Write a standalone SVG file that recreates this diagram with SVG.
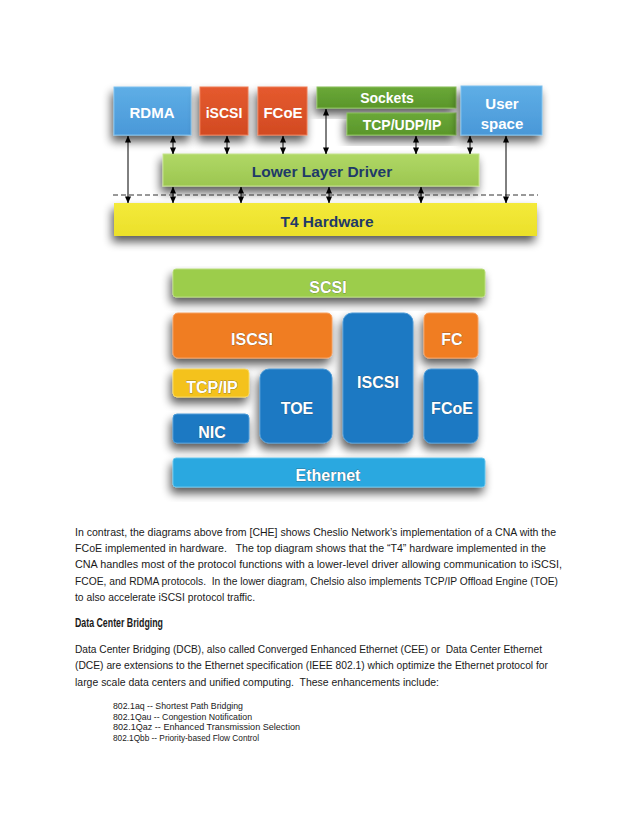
<svg xmlns="http://www.w3.org/2000/svg" width="638" height="826" viewBox="0 0 638 826">
<defs>
  <filter id="sh" x="-30%" y="-30%" width="160%" height="180%">
    <feGaussianBlur in="SourceAlpha" stdDeviation="5"/>
    <feOffset dx="-2" dy="6" result="b"/>
    <feComponentTransfer><feFuncA type="linear" slope="0.65"/></feComponentTransfer>
    <feMerge><feMergeNode/><feMergeNode in="SourceGraphic"/></feMerge>
  </filter>
  <marker id="ah" viewBox="0 0 8 8" refX="7.5" refY="4" markerWidth="7" markerHeight="7" markerUnits="userSpaceOnUse" orient="auto-start-reverse">
    <path d="M0,0.5 L8,4 L0,7.5 z" fill="#000"/>
  </marker>
  <linearGradient id="gBlue" x1="0" y1="0" x2="0" y2="1"><stop offset="0" stop-color="#5eaee6"/><stop offset="1" stop-color="#4a98d8"/></linearGradient>
  <linearGradient id="gRed" x1="0" y1="0" x2="0" y2="1"><stop offset="0" stop-color="#e55a2e"/><stop offset="1" stop-color="#d24a22"/></linearGradient>
  <linearGradient id="gGreen" x1="0" y1="0" x2="0" y2="1"><stop offset="0" stop-color="#6aa838"/><stop offset="1" stop-color="#5a962a"/></linearGradient>
  <linearGradient id="gLime" x1="0" y1="0" x2="0" y2="1"><stop offset="0" stop-color="#b0d866"/><stop offset="1" stop-color="#9cc650"/></linearGradient>
  <linearGradient id="gYel" x1="0" y1="0" x2="0" y2="1"><stop offset="0" stop-color="#f4ea3a"/><stop offset="1" stop-color="#ebe02a"/></linearGradient>
</defs>
<style>
  .bx { filter: url(#sh); }
  .wt { font-family: "Liberation Sans", Arial, sans-serif; font-weight: bold; fill: #fff; text-anchor: middle; }
  .nv { font-family: "Liberation Sans", Arial, sans-serif; font-weight: bold; fill: #1f3a68; text-anchor: middle; }
  .bt { font-family: "Liberation Sans", Arial, sans-serif; font-weight: bold; fill: #fff; text-anchor: middle; font-size: 16px; stroke: #3a3a3a; stroke-width: 0.4; paint-order: stroke; }
  .ar { stroke: #000; stroke-width: 1; fill: none; marker-start: url(#ah); marker-end: url(#ah); }
  .p { font-family: "Liberation Sans", Arial, sans-serif; font-size: 11.5px; fill: #1a1a1a; white-space: pre; }
  .h { font-family: "Liberation Sans", Arial, sans-serif; font-size: 12px; font-weight: bold; fill: #1a1a1a; }
  .l { font-family: "Liberation Sans", Arial, sans-serif; font-size: 9px; fill: #1a1a1a; }
</style>
<rect width="638" height="826" fill="#fff"/>

<!-- Top diagram -->
<g id="t4">
  <rect class="bx" x="114" y="203" width="423" height="33" fill="url(#gYel)"/>
  <text class="nv" x="327" y="227" font-size="15.5">T4 Hardware</text>
</g>
<g id="lld">
  <rect class="bx" x="163" y="154" width="316" height="32" fill="url(#gLime)" stroke="#c4e28c" stroke-width="1"/>
  <text class="nv" x="322" y="177" font-size="15.5">Lower Layer Driver</text>
</g>
<g id="rdma">
  <rect class="bx" x="114" y="87" width="77" height="48" fill="url(#gBlue)" stroke="#7cc0ee" stroke-width="1"/>
  <text class="wt" x="152" y="118" font-size="15">RDMA</text>
</g>
<g id="iscsi-top">
  <rect class="bx" x="200" y="87" width="48" height="48" fill="url(#gRed)" stroke="#ee7a52" stroke-width="1"/>
  <text class="wt" x="224" y="118" font-size="14">iSCSI</text>
</g>
<g id="fcoe-top">
  <rect class="bx" x="258" y="87" width="49" height="48" fill="url(#gRed)" stroke="#ee7a52" stroke-width="1"/>
  <text class="wt" x="283" y="118" font-size="15">FCoE</text>
</g>
<g id="sockets">
  <rect class="bx" x="317" y="87" width="139" height="21" fill="url(#gGreen)" stroke="#8cc25c" stroke-width="1"/>
  <text class="wt" x="387" y="103" font-size="14">Sockets</text>
</g>
<g id="tcpudpip">
  <rect class="bx" x="347" y="113" width="109" height="22" fill="url(#gGreen)" stroke="#8cc25c" stroke-width="1"/>
  <text class="wt" x="402" y="130" font-size="14">TCP/UDP/IP</text>
</g>
<g id="userspace">
  <rect class="bx" x="461" y="86" width="81" height="49" fill="url(#gBlue)" stroke="#7cc0ee" stroke-width="1"/>
  <text class="wt" x="502" y="109" font-size="15">User</text>
  <text class="wt" x="502" y="129" font-size="15">space</text>
</g>

<g id="connectors">
  <line x1="113" y1="195" x2="538" y2="195" stroke="#333" stroke-width="1" stroke-dasharray="5,3"/>
  <line class="ar" x1="128" y1="136" x2="128" y2="203"/>
  <line class="ar" x1="173" y1="136" x2="173" y2="154"/>
  <line class="ar" x1="227" y1="136" x2="227" y2="154"/>
  <line class="ar" x1="283" y1="136" x2="283" y2="154"/>
  <line class="ar" x1="326" y1="109" x2="326" y2="154"/>
  <line class="ar" x1="416" y1="136" x2="416" y2="154"/>
  <line class="ar" x1="470" y1="136" x2="470" y2="154"/>
  <line class="ar" x1="506" y1="136" x2="506" y2="203"/>
  <line class="ar" x1="173" y1="187" x2="173" y2="203"/>
  <line class="ar" x1="241" y1="187" x2="241" y2="203"/>
  <line class="ar" x1="329" y1="187" x2="329" y2="203"/>
  <line class="ar" x1="421" y1="187" x2="421" y2="203"/>
</g>

<!-- Bottom diagram -->
<g id="scsi">
  <rect class="bx" x="173" y="269" width="312" height="28" rx="3" fill="#9ccd4c" stroke="#b8dc7a" stroke-width="1"/>
  <text class="bt" x="328" y="293">SCSI</text>
</g>
<g id="iscsi-orange">
  <rect class="bx" x="173" y="313" width="159" height="45" rx="5" fill="#f07d22" stroke="#f6a060" stroke-width="1"/>
  <text class="bt" x="252" y="345">ISCSI</text>
</g>
<g id="iscsi-blue">
  <rect class="bx" x="343" y="313" width="70" height="130" rx="9" fill="#1f79c3" stroke="#4a9ad6" stroke-width="1"/>
  <text class="bt" x="378" y="388">ISCSI</text>
</g>
<g id="fc">
  <rect class="bx" x="424" y="313" width="54" height="45" rx="5" fill="#f07d22" stroke="#f6a060" stroke-width="1"/>
  <text class="bt" x="452" y="345">FC</text>
</g>
<g id="tcpip">
  <rect class="bx" x="173" y="369" width="76" height="28" rx="4" fill="#f4c21c" stroke="#f8d860" stroke-width="1"/>
  <text class="bt" x="212" y="393">TCP/IP</text>
</g>
<g id="toe">
  <rect class="bx" x="260" y="369" width="72" height="74" rx="9" fill="#1f79c3" stroke="#4a9ad6" stroke-width="1"/>
  <text class="bt" x="297" y="414">TOE</text>
</g>
<g id="nic">
  <rect class="bx" x="173" y="414" width="76" height="29" rx="4" fill="#1f79c3" stroke="#4a9ad6" stroke-width="1"/>
  <text class="bt" x="212" y="438">NIC</text>
</g>
<g id="fcoe">
  <rect class="bx" x="424" y="369" width="54" height="74" rx="7" fill="#1f79c3" stroke="#4a9ad6" stroke-width="1"/>
  <text class="bt" x="452" y="414">FCoE</text>
</g>
<g id="ethernet">
  <rect class="bx" x="173" y="458" width="312" height="29" rx="3" fill="#29a8e0" stroke="#66c4ec" stroke-width="1"/>
  <text class="bt" x="328" y="481">Ethernet</text>
</g>

<!-- Text -->
<text class="p" x="75" y="536" textLength="481" lengthAdjust="spacingAndGlyphs">In contrast, the diagrams above from [CHE] shows Cheslio Network’s implementation of a CNA with the</text>
<text class="p" x="75" y="552" textLength="471" lengthAdjust="spacingAndGlyphs">FCoE implemented in hardware.   The top diagram shows that the “T4” hardware implemented in the</text>
<text class="p" x="75" y="568" textLength="487" lengthAdjust="spacingAndGlyphs">CNA handles most of the protocol functions with a lower-level driver allowing communication to iSCSI,</text>
<text class="p" x="75" y="585" textLength="483" lengthAdjust="spacingAndGlyphs">FCOE, and RDMA protocols.  In the lower diagram, Chelsio also implements TCP/IP Offload Engine (TOE)</text>
<text class="p" x="75" y="601" textLength="180" lengthAdjust="spacingAndGlyphs">to also accelerate iSCSI protocol traffic.</text>
<text class="h" x="75" y="627" textLength="88" lengthAdjust="spacingAndGlyphs">Data Center Bridging</text>
<text class="p" x="75" y="653" textLength="467" lengthAdjust="spacingAndGlyphs">Data Center Bridging (DCB), also called Converged Enhanced Ethernet (CEE) or  Data Center Ethernet</text>
<text class="p" x="75" y="669" textLength="473" lengthAdjust="spacingAndGlyphs">(DCE) are extensions to the Ethernet specification (IEEE 802.1) which optimize the Ethernet protocol for</text>
<text class="p" x="75" y="686" textLength="364" lengthAdjust="spacingAndGlyphs">large scale data centers and unified computing.  These enhancements include:</text>
<text class="l" x="113" y="709" textLength="130" lengthAdjust="spacingAndGlyphs">802.1aq -- Shortest Path Bridging</text>
<text class="l" x="113" y="719.5" textLength="139" lengthAdjust="spacingAndGlyphs">802.1Qau -- Congestion Notification</text>
<text class="l" x="113" y="730" textLength="187" lengthAdjust="spacingAndGlyphs">802.1Qaz -- Enhanced Transmission Selection</text>
<text class="l" x="113" y="740.5" textLength="146" lengthAdjust="spacingAndGlyphs">802.1Qbb -- Priority-based Flow Control</text>
</svg>
